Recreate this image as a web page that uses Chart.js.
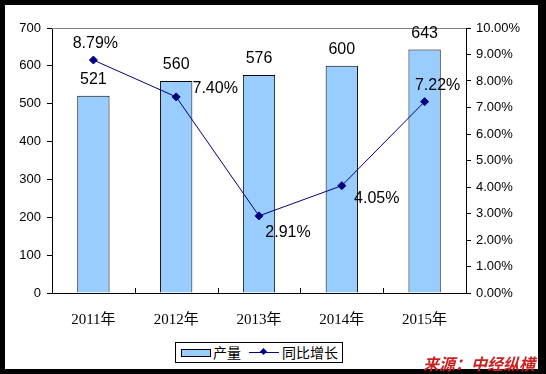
<!DOCTYPE html>
<html>
<head>
<meta charset="utf-8">
<script src="https://cdn.jsdelivr.net/npm/chart.js@4/dist/chart.umd.min.js"></script>
<style>
  html, body { margin: 0; padding: 0; }
  body { width: 546px; height: 374px; background: #000; position: relative; overflow: hidden; }
  #frame { position: absolute; left: 5px; top: 5px; width: 533px; height: 364px; background: #fff; }
  #chart { position: absolute; left: 0; top: 0; }
  #legend {
    position: absolute; left: 175px; top: 342px; width: 166px; height: 19px;
    border: 1px solid #000; background: #fff;
    font: 14px "Noto Sans CJK SC", sans-serif; line-height: 19px; white-space: nowrap;
  }
  #legend span { position: absolute; top: 0; }
  .sw { position: absolute; top: 6px; left: 5px; width: 28px; height: 6px; background: #99ccff; border: 1px solid #000; }
  .ln { position: absolute; top: 9px; left: 73px; width: 30px; height: 1px; background: #000080; }
  .dm { position: absolute; top: 6px; left: 85px; width: 5px; height: 5px; background: #000080; transform: rotate(45deg); }
  #source {
    position: absolute; left: 423px; top: 351px; color: #cc1f1f;
    font: italic bold 16px "Noto Sans CJK SC", sans-serif; white-space: nowrap;
  }
</style>
</head>
<body>
<div id="frame"></div>
<canvas id="chart" width="546" height="374"></canvas>
<div id="legend">
  <div class="sw"></div><span style="left:37px">产量</span>
  <div class="ln"></div><div class="dm"></div><span style="left:106px">同比增长</span>
</div>
<div id="source">来源：中经纵横</div>
<script>
// data
const years = ["2011年", "2012年", "2013年", "2014年", "2015年"];
const output = [521, 560, 576, 600, 643];
const growth = [8.79, 7.40, 2.91, 4.05, 7.22];

// where each growth label sits relative to its point (as in the picture)
const growthLabelOffset = [[2, -16], [39, -8], [29, 17], [35, 13], [13, -16]];

const labelPlugin = {
  id: "labels",
  afterDatasetsDraw(chart) {
    const ctx = chart.ctx;
    ctx.save();
    ctx.font = "16px 'Liberation Sans', Arial, sans-serif";
    ctx.fillStyle = "#000";
    ctx.textAlign = "center";
    ctx.textBaseline = "middle";
    chart.getDatasetMeta(0).data.forEach((bar, i) => {
      ctx.fillText(String(output[i]), bar.x, bar.y - 16);
    });
    chart.getDatasetMeta(1).data.forEach((pt, i) => {
      const o = growthLabelOffset[i];
      ctx.fillText(growth[i].toFixed(2) + "%", pt.x + o[0], pt.y + o[1]);
    });
    ctx.restore();
  }
};

const frameLines = {
  id: "frameLines",
  beforeDatasetsDraw(chart) {
    const a = chart.chartArea, ctx = chart.ctx;
    ctx.save();
    ctx.strokeStyle = "#808080";
    ctx.lineWidth = 1;
    ctx.beginPath();
    ctx.moveTo(a.left, a.top + 0.5);
    ctx.lineTo(a.right, a.top + 0.5);
    ctx.stroke();
    // small tick marks between categories on the x axis
    ctx.strokeStyle = "#000";
    const step = (a.right - a.left) / years.length;
    ctx.beginPath();
    for (let i = 1; i < years.length; i++) {
      const x = Math.round(a.left + step * i) + 0.5;
      ctx.moveTo(x, a.bottom);
      ctx.lineTo(x, a.bottom - 5);
    }
    ctx.stroke();
    ctx.restore();
  }
};

new Chart(document.getElementById("chart"), {
  type: "bar",
  data: {
    labels: years,
    datasets: [
      {
        type: "bar", label: "产量", data: output, yAxisID: "y",
        backgroundColor: "#99ccff", borderColor: "#000", borderWidth: 1,
        barPercentage: 0.39, categoryPercentage: 1, order: 2
      },
      {
        type: "line", label: "同比增长", data: growth, yAxisID: "y1",
        borderColor: "#000080", borderWidth: 1, backgroundColor: "#000080",
        pointStyle: "rectRot", pointRadius: 4, pointHoverRadius: 4,
        tension: 0, order: 1
      }
    ]
  },
  options: {
    responsive: false,
    animation: false,
    layout: { padding: { left: 0, right: 0, top: 28, bottom: 0 } },
    plugins: { legend: { display: false }, tooltip: { enabled: false } },
    scales: {
      x: {
        grid: { display: false, drawTicks: false },
        border: { color: "#000", width: 1 },
        ticks: { color: "#000", padding: 18, font: { family: "'Liberation Serif', 'Noto Sans CJK SC', serif", size: 15 } },
        afterFit(s) { s.height = 81; }
      },
      y: {
        position: "left", min: 0, max: 700,
        grid: { drawOnChartArea: false, color: "#000", tickLength: 5 },
        border: { color: "#000", width: 1 },
        ticks: { stepSize: 100, color: "#000", padding: 6, font: { family: "'Liberation Sans', Arial, sans-serif", size: 13 } },
        afterFit(s) { s.width = 52; }
      },
      y1: {
        position: "right", min: 0, max: 10,
        grid: { drawOnChartArea: false, color: "#000", tickLength: 5 },
        border: { color: "#000", width: 1 },
        ticks: {
          stepSize: 1, color: "#000", padding: 5,
          font: { family: "'Liberation Sans', Arial, sans-serif", size: 13 },
          callback: v => v.toFixed(2) + "%"
        },
        afterFit(s) { s.width = 80; }
      }
    }
  },
  plugins: [frameLines, labelPlugin]
});
</script>
</body>
</html>
